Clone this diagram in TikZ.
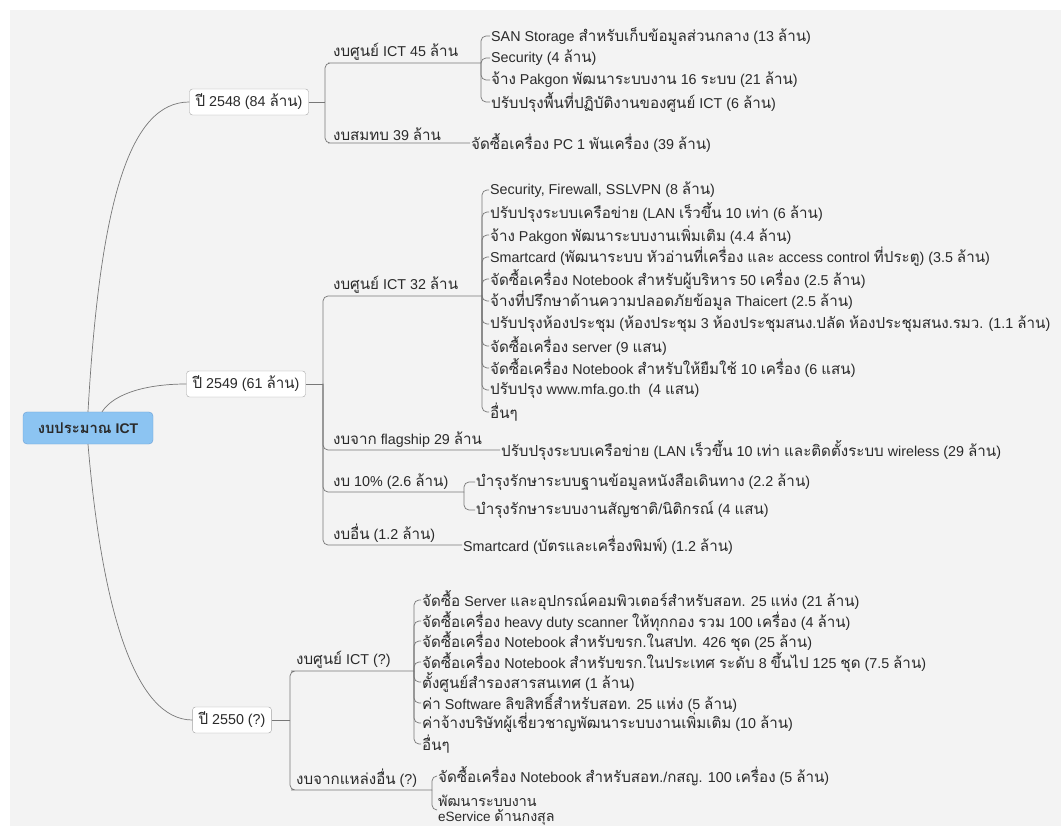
\documentclass[tikz,border=0pt]{standalone}
\usepackage{fontspec}
\setmainfont{Liberation Sans}
\newfontfamily\latinfont{Liberation Sans}
\newfontfamily\thaifont[Script=Thai,Scale=1.06]{Loma}
% Thai letters are set in Loma, the rest in Liberation Sans
\XeTeXinterchartokenstate=1
\newXeTeXintercharclass\thaiclass
\count255="0E00
\loop\XeTeXcharclass\count255=\thaiclass
  \advance\count255 by 1
  \ifnum\count255<"0E80\repeat
\XeTeXinterchartoks 0 \thaiclass = {\thaifont}
\XeTeXinterchartoks 4095 \thaiclass = {\thaifont}
\XeTeXinterchartoks \thaiclass 0 = {\latinfont}
\XeTeXinterchartoks \thaiclass 4095 = {\latinfont}

\definecolor{bgcol}{HTML}{F3F3F3}
\definecolor{linkcol}{HTML}{777777}
\definecolor{boxline}{HTML}{A4A4A4}
\definecolor{rootfill}{HTML}{8CC4F2}
\definecolor{rootline}{HTML}{6A9ED6}
\definecolor{txt}{HTML}{2A2A2A}

\begin{document}
\begin{tikzpicture}[x=1pt, y=-1pt,
  every node/.style={text=txt, font=\fontsize{14.3}{15}\selectfont},
  link/.style={draw=linkcol, line width=0.7pt, rounded corners=5pt},
  rootbox/.style={draw=rootline, fill=rootfill, rounded corners=4pt, minimum width=130pt, minimum height=32pt, font=\bfseries\fontsize{14}{15}\selectfont},
  yearbox/.style={draw=boxline, fill=white, rounded corners=3pt, minimum height=26pt, inner xsep=6pt},
  budget/.style={anchor=south west, inner xsep=0pt, inner ysep=2pt, font=\fontsize{14.3}{15}\selectfont},
  leaf/.style={anchor=west, inner sep=1pt}]

  % page and grey background
  \useasboundingbox (0,0) rectangle (1061,826);
  \fill[white] (0,0) rectangle (1061,826);
  \fill[bgcol] (10,10) rectangle (1061,826);

  % root
  \node[rootbox] (root) at (88,428) {งบประมาณ ICT};

  % years
  \node[yearbox] (y48) at (249,102) {ปี 2548 (84 ล้าน)};
  \node[yearbox] (y49) at (246,384) {ปี 2549 (61 ล้าน)};
  \node[yearbox] (y50) at (232,720) {ปี 2550 (?)};

  \draw[link] (root.north) .. controls (100,200) and (130,102) .. (y48.west);
  \draw[link] ([xshift=14pt]root.north) .. controls (115,392) and (150,384) .. (y49.west);
  \draw[link] (root.south) .. controls (102,610) and (135,720) .. (y50.west);

  % ---- 2548
  \coordinate (j48) at (325,102);
  \draw[link] (y48.east) -- (j48);
  \node[budget] (ict45) at (333,63) {งบศูนย์ ICT 45 ล้าน};
  \node[budget] (sm39) at (333,143) {งบสมทบ 39 ล้าน};
  \coordinate (k45) at (481,63);
  \draw[link] (j48) |- (ict45.south west) -- (k45);

  \node[leaf] (s45a) at (490,36) {SAN Storage สำหรับเก็บข้อมูลส่วนกลาง (13 ล้าน)};
  \node[leaf] (s45b) at (490,58) {Security (4 ล้าน)};
  \node[leaf] (s45c) at (490,80) {จ้าง Pakgon พัฒนาระบบงาน 16 ระบบ (21 ล้าน)};
  \node[leaf] (s45d) at (490,102) {ปรับปรุงพื้นที่ปฏิบัติงานของศูนย์ ICT (6 ล้าน)};
  \foreach \n in {s45a,s45b,s45c,s45d}
    \draw[link] (k45) |- (\n.west);

  \node[leaf] (pc) at (470,143) {จัดซื้อเครื่อง PC 1 พันเครื่อง (39 ล้าน)};
  \draw[link] (j48) |- (sm39.south west) -- (pc.west);

  % ---- 2549
  \coordinate (j49) at (323,384);
  \draw[link] (y49.east) -- (j49);
  \node[budget] (ict32) at (333,296) {งบศูนย์ ICT 32 ล้าน};
  \node[budget] (fl29) at (333,450) {งบจาก flagship 29 ล้าน};
  \node[budget] (b10) at (333,492) {งบ 10\% (2.6 ล้าน)};
  \node[budget] (oth) at (333,545) {งบอื่น (1.2 ล้าน)};
  \coordinate (k32) at (482,296);
  \coordinate (k10) at (464,492);
  \draw[link] (j49) |- (ict32.south west) -- (k32);
  \draw[link] (j49) |- (b10.south west) -- (k10);

  \node[leaf] (s32a) at (489,190) {Security, Firewall, SSLVPN (8 ล้าน)};
  \node[leaf] (s32b) at (489,212) {ปรับปรุงระบบเครือข่าย (LAN เร็วขึ้น 10 เท่า (6 ล้าน)};
  \node[leaf] (s32c) at (489,235) {จ้าง Pakgon พัฒนาระบบงานเพิ่มเติม (4.4 ล้าน)};
  \node[leaf] (s32d) at (489,257) {Smartcard (พัฒนาระบบ หัวอ่านที่เครื่อง และ access control ที่ประตู) (3.5 ล้าน)};
  \node[leaf] (s32e) at (489,279) {จัดซื้อเครื่อง Notebook สำหรับผู้บริหาร 50 เครื่อง (2.5 ล้าน)};
  \node[leaf] (s32f) at (489,301) {จ้างที่ปรึกษาด้านความปลอดภัยข้อมูล Thaicert (2.5 ล้าน)};
  \node[leaf] (s32g) at (489,324) {ปรับปรุงห้องประชุม (ห้องประชุม 3 ห้องประชุมสนง.ปลัด ห้องประชุมสนง.รมว. (1.1 ล้าน)};
  \node[leaf] (s32h) at (489,346) {จัดซื้อเครื่อง server (9 แสน)};
  \node[leaf] (s32i) at (489,368) {จัดซื้อเครื่อง Notebook สำหรับให้ยืมใช้ 10 เครื่อง (6 แสน)};
  \node[leaf] (s32j) at (489,390) {ปรับปรุง www.mfa.go.th\ \ (4 แสน)};
  \node[leaf] (s32k) at (489,412) {อื่นๆ};
  \foreach \n in {s32a,s32b,s32c,s32d,s32e,s32f,s32g,s32h,s32i,s32j,s32k}
    \draw[link] (k32) |- (\n.west);

  \node[leaf] (net29) at (500,450) {ปรับปรุงระบบเครือข่าย (LAN เร็วขึ้น 10 เท่า และติดตั้งระบบ wireless (29 ล้าน)};
  \draw[link] (j49) |- (fl29.south west) -- (net29.west);

  \node[leaf] (s10a) at (475,482) {บำรุงรักษาระบบฐานข้อมูลหนังสือเดินทาง (2.2 ล้าน)};
  \node[leaf] (s10b) at (475,510) {บำรุงรักษาระบบงานสัญชาติ/นิติกรณ์ (4 แสน)};
  \foreach \n in {s10a,s10b}
    \draw[link] (k10) |- (\n.west);

  \node[leaf] (card) at (462,545) {Smartcard (บัตรและเครื่องพิมพ์) (1.2 ล้าน)};
  \draw[link] (j49) |- (oth.south west) -- (card.west);

  % ---- 2550
  \coordinate (j50) at (290,720);
  \draw[link] (y50.east) -- (j50);
  \node[budget] (ictq) at (296,671) {งบศูนย์ ICT (?)};
  \node[budget] (srcq) at (296,790) {งบจากแหล่งอื่น (?)};
  \coordinate (kq) at (414,671);
  \coordinate (ks) at (432,790);
  \draw[link] (j50) |- (ictq.south west) -- (kq);
  \draw[link] (j50) |- (srcq.south west) -- (ks);

  \node[leaf] (sqa) at (421,600) {จัดซื้อ Server และอุปกรณ์คอมพิวเตอร์สำหรับสอท. 25 แห่ง (21 ล้าน)};
  \node[leaf] (sqb) at (421,621) {จัดซื้อเครื่อง heavy duty scanner ให้ทุกกอง รวม 100 เครื่อง (4 ล้าน)};
  \node[leaf] (sqc) at (421,641) {จัดซื้อเครื่อง Notebook สำหรับขรก.ในสปท. 426 ชุด (25 ล้าน)};
  \node[leaf] (sqd) at (421,662) {จัดซื้อเครื่อง Notebook สำหรับขรก.ในประเทศ ระดับ 8 ขึ้นไป 125 ชุด (7.5 ล้าน)};
  \node[leaf] (sqe) at (421,682) {ตั้งศูนย์สำรองสารสนเทศ (1 ล้าน)};
  \node[leaf] (sqf) at (421,703) {ค่า Software ลิขสิทธิ์สำหรับสอท. 25 แห่ง (5 ล้าน)};
  \node[leaf] (sqg) at (421,723) {ค่าจ้างบริษัทผู้เชี่ยวชาญพัฒนาระบบงานเพิ่มเติม (10 ล้าน)};
  \node[leaf] (sqh) at (421,744) {อื่นๆ};
  \foreach \n in {sqa,sqb,sqc,sqd,sqe,sqf,sqg,sqh}
    \draw[link] (kq) |- (\n.west);

  \node[leaf] (ssa) at (437,776) {จัดซื้อเครื่อง Notebook สำหรับสอท./กสญ. 100 เครื่อง (5 ล้าน)};
  \node[leaf, align=left, font=\fontsize{13.5}{15}\selectfont] (ssb) at (437,810) {พัฒนาระบบงาน\\eService ด้านกงสุล};
  \foreach \n in {ssa,ssb}
    \draw[link] (ks) |- (\n.west);
\end{tikzpicture}
\end{document}
